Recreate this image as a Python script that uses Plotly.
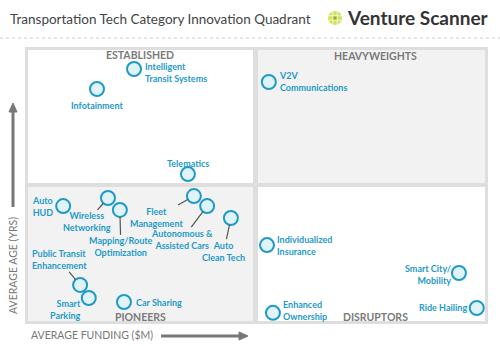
import plotly.graph_objects as go

# ---------------- data ----------------
categories = [
    "Intelligent Transit Systems", "Infotainment", "Telematics", "V2V Communications",
    "Auto HUD", "Wireless Networking", "Mapping/Route Optimization", "Fleet Management",
    "Autonomous & Assisted Cars", "Auto Clean Tech", "Public Transit Enhancement",
    "Smart Parking", "Car Sharing", "Individualized Insurance", "Smart City/Mobility",
    "Enhanced Ownership", "Ride Hailing",
]
funding = [23.2, 15.1, 35.0, 52.7, 7.7, 17.5, 20.1, 36.3, 39.2, 44.4, 11.4, 13.3, 21.0, 52.3, 94.3, 53.6, 98.2]
age = [93.0, 85.6, 54.2, 88.2, 42.4, 45.4, 41.0, 46.1, 42.4, 38.0, 13.3, 8.5, 7.0, 28.0, 17.7, 3.0, 4.8]
label_text = [
    "Intelligent<br>Transit Systems", "Infotainment", "Telematics", "V2V<br>Communications",
    "Auto<br>HUD", "Wireless<br>Networking", "Mapping/Route<br>Optimization", "Fleet<br>Management",
    "Autonomous &<br>Assisted Cars", "Auto<br>Clean Tech", "Public Transit<br>Enhancement",
    "Smart<br>Parking", "Car Sharing", "Individualized<br>Insurance", "Smart City/<br>Mobility",
    "Enhanced<br>Ownership", "Ride Hailing",
]
quadrant_names = ["ESTABLISHED", "HEAVYWEIGHTS", "PIONEERS", "DISRUPTORS"]

# ---------------- layout geometry (pixels) ----------------
W, H = 500, 346
L, R, T, B = 25, 12, 47, 22          # outer frame = plot area
PX0, PX1 = 28, 485                   # data 0..100 in x
PY0, PY1 = 321, 50                   # data 0..100 in y
sx = (PX1 - PX0) / 100.0
sy = (PY0 - PY1) / 100.0
xr = [-(PX0 - L) / sx, 100 + ((W - R) - PX1) / sx]
yr = [-((H - B) - PY0) / sy, 100 + (PY1 - T) / sy]

def px_to_paper_x(px):
    return (px - L) / (W - L - R)

def py_to_paper_y(py):
    return ((H - B) - py) / (H - T - B)

BLUE = "#1e9ac8"
FILL = "#dff3f8"
GREYTXT = "#7a7a7a"

fig = go.Figure()
fig.add_trace(go.Scatter(
    x=funding, y=age, mode="markers", text=categories, hoverinfo="text",
    marker=dict(size=14, color=FILL, line=dict(color=BLUE, width=2)),
    cliponaxis=False, showlegend=False,
))

shapes = []
# outer frame
shapes.append(dict(type="rect", xref="paper", yref="paper", x0=0, x1=1, y0=0, y1=1,
                   fillcolor="#dedede", line=dict(width=0), layer="below"))
# quadrants
qx_split_l = (253 - PX0) / sx
qx_split_r = (258 - PX0) / sx
qy_split_t = (PY0 - 183) / sy
qy_split_b = (PY0 - 187) / sy
quads = [
    (0, qx_split_l, qy_split_t, 100, "#ffffff"),
    (qx_split_r, 100, qy_split_t, 100, "#f2f2f2"),
    (0, qx_split_l, 0, qy_split_b, "#f2f2f2"),
    (qx_split_r, 100, 0, qy_split_b, "#ffffff"),
]
for x0, x1, y0, y1, c in quads:
    shapes.append(dict(type="rect", xref="x", yref="y", x0=x0, x1=x1, y0=y0, y1=y1,
                       fillcolor=c, line=dict(width=0), layer="below"))

# dotted separator under title
shapes.append(dict(type="line", xref="paper", yref="paper",
                   x0=px_to_paper_x(0), x1=px_to_paper_x(500),
                   y0=py_to_paper_y(38), y1=py_to_paper_y(38),
                   line=dict(color="#cccccc", width=1, dash="dot")))

# y-axis arrow
AX = "#777777"
shapes.append(dict(type="line", xref="paper", yref="paper",
                   x0=px_to_paper_x(13), x1=px_to_paper_x(13),
                   y0=py_to_paper_y(207), y1=py_to_paper_y(110),
                   line=dict(color=AX, width=3)))
shapes.append(dict(type="path", xref="paper", yref="paper",
                   path="M {} {} L {} {} L {} {} Z".format(
                       px_to_paper_x(9), py_to_paper_y(112),
                       px_to_paper_x(13), py_to_paper_y(103),
                       px_to_paper_x(17), py_to_paper_y(112)),
                   fillcolor=AX, line=dict(color=AX, width=1)))
# x-axis arrow
shapes.append(dict(type="line", xref="paper", yref="paper",
                   x0=px_to_paper_x(161), x1=px_to_paper_x(241),
                   y0=py_to_paper_y(336), y1=py_to_paper_y(336),
                   line=dict(color=AX, width=3)))
shapes.append(dict(type="path", xref="paper", yref="paper",
                   path="M {} {} L {} {} L {} {} Z".format(
                       px_to_paper_x(239), py_to_paper_y(332),
                       px_to_paper_x(248), py_to_paper_y(336),
                       px_to_paper_x(239), py_to_paper_y(340)),
                   fillcolor=AX, line=dict(color=AX, width=1)))

# logo icon
cx, cy, r = 335, 18, 7
shapes.append(dict(type="circle", xref="paper", yref="paper",
                   x0=px_to_paper_x(cx - r), x1=px_to_paper_x(cx + r),
                   y0=py_to_paper_y(cy + r), y1=py_to_paper_y(cy - r),
                   fillcolor="#cfe354", line=dict(width=0)))
for d in (-2.2, 2.2):
    shapes.append(dict(type="line", xref="paper", yref="paper",
                       x0=px_to_paper_x(cx + d), x1=px_to_paper_x(cx + d),
                       y0=py_to_paper_y(cy - r), y1=py_to_paper_y(cy + r),
                       line=dict(color="#f4f8dc", width=1)))
    shapes.append(dict(type="line", xref="paper", yref="paper",
                       x0=px_to_paper_x(cx - r), x1=px_to_paper_x(cx + r),
                       y0=py_to_paper_y(cy + d), y1=py_to_paper_y(cy + d),
                       line=dict(color="#f4f8dc", width=1)))
shapes.append(dict(type="rect", xref="paper", yref="paper",
                   x0=px_to_paper_x(cx - 1.6), x1=px_to_paper_x(cx + 1.6),
                   y0=py_to_paper_y(cy + 1.6), y1=py_to_paper_y(cy - 1.6),
                   fillcolor="#86b83a", line=dict(width=0)))

annotations = []
LBLFONT = dict(family="Lato", size=9, color=BLUE, weight="bold")

# label placement: static (xshift, yshift, xanchor, align) or arrow (ax, ay, align)
place = {
    "Intelligent Transit Systems": ("s", 10, -4, "left", "left"),
    "Infotainment": ("s", 0, -16, "center", "center"),
    "Telematics": ("s", 0, 11, "center", "center"),
    "V2V Communications": ("s", 9, 0, "left", "left"),
    "Auto HUD": ("s", -9, 0, "right", "center"),
    "Smart Parking": ("s", -7, -12, "right", "right"),
    "Car Sharing": ("s", 11, 0, "left", "left"),
    "Individualized Insurance": ("s", 9, 0, "left", "left"),
    "Smart City/Mobility": ("s", -7, -1, "right", "right"),
    "Enhanced Ownership": ("s", 9, 2, "left", "left"),
    "Ride Hailing": ("s", -9, 0, "right", "right"),
    "Wireless Networking": ("a", -21, 24, "center"),
    "Mapping/Route Optimization": ("a", 1, 37, "center"),
    "Fleet Management": ("a", -37, 21, "center"),
    "Autonomous & Assisted Cars": ("a", -25, 33, "center"),
    "Auto Clean Tech": ("a", -7, 33, "center"),
    "Public Transit Enhancement": ("a", -21, -25, "left"),
}
for cat, fx, ay_, txt in zip(categories, funding, age, label_text):
    p = place[cat]
    if p[0] == "s":
        _, xs, ys, xa, al = p
        annotations.append(dict(x=fx, y=ay_, xref="x", yref="y", text=txt, showarrow=False,
                                xshift=xs, yshift=ys, xanchor=xa, yanchor="middle", align=al,
                                font=LBLFONT, borderpad=0))
    else:
        _, axp, ayp, al = p
        annotations.append(dict(x=fx, y=ay_, xref="x", yref="y", text=txt, showarrow=True,
                                ax=axp, ay=ayp, arrowhead=0, arrowwidth=1.2, arrowcolor="#555555",
                                standoff=7, startstandoff=0, align=al, font=LBLFONT, borderpad=0))

# quadrant names
QFONT = dict(family="Lato", size=10.5, color=GREYTXT, weight="bold")
qpos = [(140, 55), (375, 56), (140, 317), (375, 317)]
for name, (qx, qy) in zip(quadrant_names, qpos):
    annotations.append(dict(x=px_to_paper_x(qx), y=py_to_paper_y(qy), xref="paper", yref="paper",
                            text=name, showarrow=False, xanchor="center", yanchor="middle",
                            font=QFONT))

# axis titles
AXFONT = dict(family="Lato", size=10.5, color="#777777")
annotations.append(dict(x=px_to_paper_x(92), y=py_to_paper_y(335), xref="paper", yref="paper",
                        text="AVERAGE FUNDING ($M)", showarrow=False, xanchor="center",
                        yanchor="middle", font=AXFONT))
annotations.append(dict(x=px_to_paper_x(13), y=py_to_paper_y(266), xref="paper", yref="paper",
                        text="AVERAGE AGE (YRS)", showarrow=False, xanchor="center",
                        yanchor="middle", textangle=-90, font=AXFONT))

# title and logo text
annotations.append(dict(x=px_to_paper_x(8), y=py_to_paper_y(19), xref="paper", yref="paper",
                        text="Transportation Tech Category Innovation Quadrant", showarrow=False,
                        xanchor="left", yanchor="middle",
                        font=dict(family="Lato", size=13.5, color="#444444")))
annotations.append(dict(x=px_to_paper_x(345), y=py_to_paper_y(17), xref="paper", yref="paper",
                        text="Venture Scanner", showarrow=False,
                        xanchor="left", yanchor="middle",
                        font=dict(family="Lato", size=19, color="#333333", weight="bold")))

fig.update_layout(
    width=W, height=H,
    margin=dict(l=L, r=R, t=T, b=B, pad=0),
    paper_bgcolor="white", plot_bgcolor="rgba(0,0,0,0)",
    xaxis=dict(range=xr, visible=False, fixedrange=True),
    yaxis=dict(range=yr, visible=False, fixedrange=True),
    shapes=shapes, annotations=annotations,
    showlegend=False,
)
fig.write_html("out.html", config={"displayModeBar": False})
